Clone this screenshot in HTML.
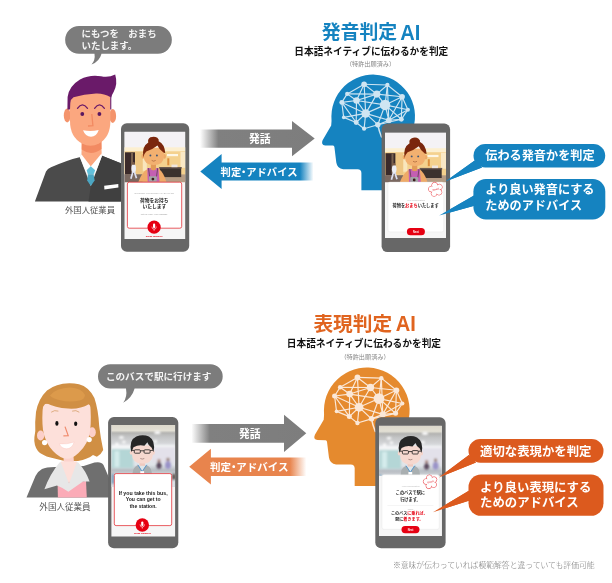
<!DOCTYPE html>
<html lang="ja">
<head>
<meta charset="utf-8">
<title>発音判定AI / 表現判定AI</title>
<style>
html,body{margin:0;padding:0;background:#fff;}
body{width:612px;height:583px;overflow:hidden;}
svg{display:block;font-family:"Liberation Sans","Noto Sans CJK JP",sans-serif;will-change:transform;}
</style>
</head>
<body>
<svg width="612" height="583" viewBox="0 0 612 583">
<rect width="612" height="583" fill="#ffffff"/>
<defs>
<linearGradient id="gGray" x1="0" x2="1" y1="0" y2="0"><stop offset="0" stop-color="#808080" stop-opacity="0"/><stop offset="0.16" stop-color="#808080" stop-opacity="1"/><stop offset="1" stop-color="#7d7d7d"/></linearGradient>
<linearGradient id="gBlue" x1="1" x2="0" y1="0" y2="0"><stop offset="0" stop-color="#1583c0" stop-opacity="0"/><stop offset="0.12" stop-color="#1583c0" stop-opacity="1"/><stop offset="1" stop-color="#1583c0"/></linearGradient>
<linearGradient id="gOrange" x1="1" x2="0" y1="0" y2="0"><stop offset="0" stop-color="#e8844d" stop-opacity="0"/><stop offset="0.14" stop-color="#e8844d" stop-opacity="1"/><stop offset="1" stop-color="#e8844d"/></linearGradient>
<linearGradient id="lobby" x1="0" x2="0" y1="0" y2="1"><stop offset="0" stop-color="#f1f1f8"/><stop offset="0.28" stop-color="#f6f1ee"/><stop offset="0.38" stop-color="#f6dca6"/><stop offset="0.7" stop-color="#f0c987"/><stop offset="0.78" stop-color="#c9a27a"/><stop offset="1" stop-color="#d9b48c"/></linearGradient>
<linearGradient id="office" x1="0" x2="0" y1="0" y2="50" gradientUnits="userSpaceOnUse"><stop offset="0" stop-color="#dcd8cb"/><stop offset="0.11" stop-color="#e2dfd4"/><stop offset="0.16" stop-color="#b4b4b2"/><stop offset="0.24" stop-color="#c4c5c6"/><stop offset="0.4" stop-color="#d9dbde"/><stop offset="0.5" stop-color="#eceef0"/><stop offset="0.8" stop-color="#dfe3e8"/><stop offset="0.9" stop-color="#b9bec4"/><stop offset="1" stop-color="#c9cdd2"/></linearGradient>
<filter id="b1" x="-20%" y="-20%" width="140%" height="140%"><feGaussianBlur stdDeviation="0.7"/></filter>
<filter id="b2" x="-20%" y="-20%" width="140%" height="140%"><feGaussianBlur stdDeviation="1.2"/></filter>
<filter id="b0" x="-20%" y="-20%" width="140%" height="140%"><feGaussianBlur stdDeviation="0.35"/></filter>
</defs>
<g><path fill="#1583c0" d="M361.4 190.2 L361.4 173 Q361.3 169.4 357.6 169.3 L343.2 169.2 Q337.2 168.6 336.3 162.5 L334.4 147 Q334.3 145.7 333 145.6 L325.2 145.4 Q320.6 144.8 322.6 140.2 L331.2 125.5 Q331.8 121.5 331.4 116.2 A41.8 41.8 0 1 1 409 138 L401 158 L401 190.2 Z"/><g stroke="#cfe5f2" stroke-width="1.15" fill="#cfe5f2" stroke-linecap="round"><line x1="364.1" y1="84.3" x2="387.4" y2="85.0"/><line x1="364.1" y1="84.3" x2="347.2" y2="93.9"/><line x1="364.1" y1="84.3" x2="356.5" y2="100.5"/><line x1="364.1" y1="84.3" x2="376.8" y2="94.1"/><line x1="364.1" y1="84.3" x2="365.7" y2="113.4"/><line x1="387.4" y1="85.0" x2="376.8" y2="94.1"/><line x1="387.4" y1="85.0" x2="402.1" y2="96.8"/><line x1="387.4" y1="85.0" x2="385.1" y2="104.9"/><line x1="387.4" y1="85.0" x2="388.8" y2="120.3"/><line x1="347.2" y1="93.9" x2="356.5" y2="100.5"/><line x1="347.2" y1="93.9" x2="341.8" y2="102.4"/><line x1="376.8" y1="94.1" x2="402.1" y2="96.8"/><line x1="376.8" y1="94.1" x2="356.5" y2="100.5"/><line x1="376.8" y1="94.1" x2="385.1" y2="104.9"/><line x1="376.8" y1="94.1" x2="365.7" y2="113.4"/><line x1="402.1" y1="96.8" x2="385.1" y2="104.9"/><line x1="402.1" y1="96.8" x2="407.9" y2="109.7"/><line x1="402.1" y1="96.8" x2="401.3" y2="119.3"/><line x1="356.5" y1="100.5" x2="341.8" y2="102.4"/><line x1="356.5" y1="100.5" x2="365.7" y2="113.4"/><line x1="356.5" y1="100.5" x2="385.1" y2="104.9"/><line x1="356.5" y1="100.5" x2="356.2" y2="122.5"/><line x1="341.8" y1="102.4" x2="343.7" y2="117.4"/><line x1="341.8" y1="102.4" x2="365.7" y2="113.4"/><line x1="341.8" y1="102.4" x2="356.2" y2="122.5"/><line x1="385.1" y1="104.9" x2="407.9" y2="109.7"/><line x1="385.1" y1="104.9" x2="365.7" y2="113.4"/><line x1="385.1" y1="104.9" x2="401.3" y2="119.3"/><line x1="385.1" y1="104.9" x2="388.8" y2="120.3"/><line x1="385.1" y1="104.9" x2="377.8" y2="124.7"/><line x1="407.9" y1="109.7" x2="401.3" y2="119.3"/><line x1="407.9" y1="109.7" x2="388.8" y2="120.3"/><line x1="365.7" y1="113.4" x2="343.7" y2="117.4"/><line x1="365.7" y1="113.4" x2="356.2" y2="122.5"/><line x1="365.7" y1="113.4" x2="377.8" y2="124.7"/><line x1="365.7" y1="113.4" x2="364.1" y2="128.7"/><line x1="365.7" y1="113.4" x2="388.8" y2="120.3"/><line x1="343.7" y1="117.4" x2="356.2" y2="122.5"/><line x1="401.3" y1="119.3" x2="388.8" y2="120.3"/><line x1="401.3" y1="119.3" x2="377.8" y2="124.7"/><line x1="388.8" y1="120.3" x2="377.8" y2="124.7"/><line x1="356.2" y1="122.5" x2="364.1" y2="128.7"/><line x1="377.8" y1="124.7" x2="364.1" y2="128.7"/><line x1="347.2" y1="93.9" x2="376.8" y2="94.1"/><line x1="402.1" y1="96.8" x2="388.8" y2="120.3"/><path d="M377.8 124.7 Q379 131 381.5 137" fill="none" stroke-width="1.5"/><circle cx="364.1" cy="84.3" r="2.8" stroke="none"/><circle cx="387.4" cy="85.0" r="2.13" stroke="none"/><circle cx="347.2" cy="93.9" r="2.13" stroke="none"/><circle cx="376.8" cy="94.1" r="3.58" stroke="none"/><circle cx="402.1" cy="96.8" r="2.8" stroke="none"/><circle cx="356.5" cy="100.5" r="3.25" stroke="none"/><circle cx="341.8" cy="102.4" r="2.46" stroke="none"/><circle cx="385.1" cy="104.9" r="5.26" stroke="none"/><circle cx="407.9" cy="109.7" r="2.02" stroke="none"/><circle cx="365.7" cy="113.4" r="4.26" stroke="none"/><circle cx="343.7" cy="117.4" r="1.79" stroke="none"/><circle cx="401.3" cy="119.3" r="2.46" stroke="none"/><circle cx="388.8" cy="120.3" r="2.91" stroke="none"/><circle cx="356.2" cy="122.5" r="2.46" stroke="none"/><circle cx="377.8" cy="124.7" r="2.69" stroke="none"/><circle cx="364.1" cy="128.7" r="2.13" stroke="none"/></g></g>
<g transform="translate(314.4,367.3) scale(1.025) translate(-322.1,-74.4)"><path fill="#e58a2e" d="M361.4 190.2 L361.4 173 Q361.3 169.4 357.6 169.3 L343.2 169.2 Q337.2 168.6 336.3 162.5 L334.4 147 Q334.3 145.7 333 145.6 L325.2 145.4 Q320.6 144.8 322.6 140.2 L331.2 125.5 Q331.8 121.5 331.4 116.2 A41.8 41.8 0 1 1 409 138 L401 158 L401 190.2 Z"/><g stroke="#fbe8d8" stroke-width="1.15" fill="#fbe8d8" stroke-linecap="round"><line x1="364.1" y1="84.3" x2="387.4" y2="85.0"/><line x1="364.1" y1="84.3" x2="347.2" y2="93.9"/><line x1="364.1" y1="84.3" x2="356.5" y2="100.5"/><line x1="364.1" y1="84.3" x2="376.8" y2="94.1"/><line x1="364.1" y1="84.3" x2="365.7" y2="113.4"/><line x1="387.4" y1="85.0" x2="376.8" y2="94.1"/><line x1="387.4" y1="85.0" x2="402.1" y2="96.8"/><line x1="387.4" y1="85.0" x2="385.1" y2="104.9"/><line x1="387.4" y1="85.0" x2="388.8" y2="120.3"/><line x1="347.2" y1="93.9" x2="356.5" y2="100.5"/><line x1="347.2" y1="93.9" x2="341.8" y2="102.4"/><line x1="376.8" y1="94.1" x2="402.1" y2="96.8"/><line x1="376.8" y1="94.1" x2="356.5" y2="100.5"/><line x1="376.8" y1="94.1" x2="385.1" y2="104.9"/><line x1="376.8" y1="94.1" x2="365.7" y2="113.4"/><line x1="402.1" y1="96.8" x2="385.1" y2="104.9"/><line x1="402.1" y1="96.8" x2="407.9" y2="109.7"/><line x1="402.1" y1="96.8" x2="401.3" y2="119.3"/><line x1="356.5" y1="100.5" x2="341.8" y2="102.4"/><line x1="356.5" y1="100.5" x2="365.7" y2="113.4"/><line x1="356.5" y1="100.5" x2="385.1" y2="104.9"/><line x1="356.5" y1="100.5" x2="356.2" y2="122.5"/><line x1="341.8" y1="102.4" x2="343.7" y2="117.4"/><line x1="341.8" y1="102.4" x2="365.7" y2="113.4"/><line x1="341.8" y1="102.4" x2="356.2" y2="122.5"/><line x1="385.1" y1="104.9" x2="407.9" y2="109.7"/><line x1="385.1" y1="104.9" x2="365.7" y2="113.4"/><line x1="385.1" y1="104.9" x2="401.3" y2="119.3"/><line x1="385.1" y1="104.9" x2="388.8" y2="120.3"/><line x1="385.1" y1="104.9" x2="377.8" y2="124.7"/><line x1="407.9" y1="109.7" x2="401.3" y2="119.3"/><line x1="407.9" y1="109.7" x2="388.8" y2="120.3"/><line x1="365.7" y1="113.4" x2="343.7" y2="117.4"/><line x1="365.7" y1="113.4" x2="356.2" y2="122.5"/><line x1="365.7" y1="113.4" x2="377.8" y2="124.7"/><line x1="365.7" y1="113.4" x2="364.1" y2="128.7"/><line x1="365.7" y1="113.4" x2="388.8" y2="120.3"/><line x1="343.7" y1="117.4" x2="356.2" y2="122.5"/><line x1="401.3" y1="119.3" x2="388.8" y2="120.3"/><line x1="401.3" y1="119.3" x2="377.8" y2="124.7"/><line x1="388.8" y1="120.3" x2="377.8" y2="124.7"/><line x1="356.2" y1="122.5" x2="364.1" y2="128.7"/><line x1="377.8" y1="124.7" x2="364.1" y2="128.7"/><line x1="347.2" y1="93.9" x2="376.8" y2="94.1"/><line x1="402.1" y1="96.8" x2="388.8" y2="120.3"/><path d="M377.8 124.7 Q379 131 381.5 137" fill="none" stroke-width="1.5"/><circle cx="364.1" cy="84.3" r="2.8" stroke="none"/><circle cx="387.4" cy="85.0" r="2.13" stroke="none"/><circle cx="347.2" cy="93.9" r="2.13" stroke="none"/><circle cx="376.8" cy="94.1" r="3.58" stroke="none"/><circle cx="402.1" cy="96.8" r="2.8" stroke="none"/><circle cx="356.5" cy="100.5" r="3.25" stroke="none"/><circle cx="341.8" cy="102.4" r="2.46" stroke="none"/><circle cx="385.1" cy="104.9" r="5.26" stroke="none"/><circle cx="407.9" cy="109.7" r="2.02" stroke="none"/><circle cx="365.7" cy="113.4" r="4.26" stroke="none"/><circle cx="343.7" cy="117.4" r="1.79" stroke="none"/><circle cx="401.3" cy="119.3" r="2.46" stroke="none"/><circle cx="388.8" cy="120.3" r="2.91" stroke="none"/><circle cx="356.2" cy="122.5" r="2.46" stroke="none"/><circle cx="377.8" cy="124.7" r="2.69" stroke="none"/><circle cx="364.1" cy="128.7" r="2.13" stroke="none"/></g></g>
<path fill="url(#gGray)" d="M200 129.4 L292 129.4 L292 120.89999999999999 L314.7 138.6 L292 156.29999999999998 L292 147.79999999999998 L200 147.79999999999998 Z"/>
<path fill="url(#gBlue)" d="M313.5 162.5 L221.6 162.5 L221.6 154.0 L200.3 171.5 L221.6 189.0 L221.6 180.5 L313.5 180.5 Z"/>
<text x="259.8" y="142.8" font-size="10.8" font-weight="700" fill="#fff" text-anchor="middle" >発話</text>
<text x="220.6" y="175.6" font-size="10.3" font-weight="700" fill="#fff" text-anchor="start" >判定<tspan dx="-2.6">・</tspan><tspan dx="-2.6">アドバイス</tspan></text>
<path fill="url(#gGray)" d="M191.4 423.90000000000003 L284 423.90000000000003 L284 414.7 L306.3 433.3 L284 451.90000000000003 L284 442.7 L191.4 442.7 Z"/>
<path fill="url(#gOrange)" d="M306.3 457.4 L210.9 457.4 L210.9 448.8 L189.2 466.7 L210.9 484.59999999999997 L210.9 476.0 L306.3 476.0 Z"/>
<text x="249.8" y="437.5" font-size="10.8" font-weight="700" fill="#fff" text-anchor="middle" >発話</text>
<text x="210" y="470.8" font-size="10.5" font-weight="700" fill="#fff" text-anchor="start" >判定<tspan dx="-2.6">・</tspan><tspan dx="-2.6">アドバイス</tspan></text>
<text x="321.7" y="39.3" font-size="18.9" font-weight="700" fill="#1583c0">発音判定</text><text transform="translate(400.3,39.6) scale(0.93,1)" font-size="21.6" font-weight="700" fill="#1583c0">AI</text>
<text x="371.3" y="55.2" font-size="9.68" font-weight="700" fill="#111" text-anchor="middle" >日本語ネイティブに伝わるかを判定</text>
<text x="370.5" y="65.5" font-size="6.15" font-weight="400" fill="#888" text-anchor="middle" >（特許出願済み）</text>
<text x="313.4" y="330.6" font-size="19.7" font-weight="700" fill="#e0641f">表現判定</text><text transform="translate(395.7,330.6) scale(0.93,1)" font-size="21.6" font-weight="700" fill="#e0641f">AI</text>
<text x="363.9" y="346.6" font-size="9.7" font-weight="700" fill="#111" text-anchor="middle" >日本語ネイティブに伝わるかを判定</text>
<text x="365" y="358.6" font-size="6.15" font-weight="400" fill="#888" text-anchor="middle" >（特許出願済み）</text>
<path fill="#7c7c7c" d="M79 26 H158 A13.85 13.85 0 0 1 158 53.7 H101.5 Q99.5 61.5 91.5 64.5 Q95.5 60 94.5 53.7 H79 A13.85 13.85 0 0 1 79 26 Z"/>
<text x="81.5" y="37.3" font-size="9.45" font-weight="700" fill="#f4f4f4" text-anchor="start" >にもつを　おまち</text>
<text x="81.5" y="48.6" font-size="9.45" font-weight="700" fill="#f4f4f4" text-anchor="start" >いたします。</text>
<path fill="#7c7c7c" d="M110.2 364.2 H210.5 A12.2 12.2 0 0 1 210.5 388.6 H134.6 Q132 398 123.2 402.8 Q127.5 397 126 388.6 H110.2 A12.2 12.2 0 0 1 110.2 364.2 Z"/>
<text x="158.7" y="379.8" font-size="9.6" font-weight="700" fill="#f4f4f4" text-anchor="middle" >このバスで駅に行けます</text>
<rect x="473.5" y="144" width="131.70000000000005" height="23.5" rx="11.75" ry="11.75" fill="#1583c0"/>
<path fill="#1583c0" d="M474.7 160.6 L445.3 181.5 L482 167.4 Z"/>
<rect x="473.4" y="179.0" width="131.89999999999998" height="40.5" rx="12.5" ry="12.5" fill="#1583c0"/>
<path fill="#1583c0" d="M474 195.6 L439.2 215.5 L475.2 205.6 Z"/>
<text x="485.3" y="160.3" font-size="12.15" font-weight="700" fill="#fff" text-anchor="start" >伝わる発音かを判定</text>
<text x="485.3" y="194.2" font-size="12.15" font-weight="700" fill="#fff" text-anchor="start" >より良い発音にする</text>
<text x="485.3" y="210.2" font-size="12.15" font-weight="700" fill="#fff" text-anchor="start" >ためのアドバイス</text>
<rect x="468.5" y="439.0" width="135.0" height="23.80000000000001" rx="11.9" ry="11.9" fill="#dc5a1e"/>
<path fill="#dc5a1e" d="M468.9 455 L438.8 477.4 L476 462.6 Z"/>
<rect x="468.5" y="474.5" width="135.0" height="41.299999999999955" rx="12.5" ry="12.5" fill="#dc5a1e"/>
<path fill="#dc5a1e" d="M468.8 490.8 L433 512.2 L469.6 500.4 Z"/>
<text x="480" y="455.6" font-size="12.4" font-weight="700" fill="#fff" text-anchor="start" >適切な表現かを判定</text>
<text x="480" y="492.4" font-size="12.4" font-weight="700" fill="#fff" text-anchor="start" >より良い表現にする</text>
<text x="480" y="507.3" font-size="12.4" font-weight="700" fill="#fff" text-anchor="start" >ためのアドバイス</text>

<g>
<!-- suit -->
<path fill="#4b4b4b" d="M34.9 201.5 L46 171.5 Q47.5 168.8 51 167.3 Q66 160.5 79.5 157.2 L102 155.8 L124 164.5 L124 201.5 Z"/>
<path fill="#404040" d="M90.8 186 L102 155.8 L124 164.5 L124 201.5 L88.5 201.5 Z"/>
<!-- shirt -->
<path fill="#f2f2f2" d="M79.8 157 L82 150 L101 150 L102 155.8 L90.8 186 Z"/>
<!-- neck -->
<path fill="#fba77f" d="M81.8 138 L101.4 138 L101.6 155.5 L90.8 166.5 L81.5 156.5 Z"/>
<path fill="#f28a62" d="M81.8 140 Q91 150 101.4 140 L101.5 149 Q91 156.5 81.7 149.5 Z"/>
<!-- collar flaps -->
<path fill="#ffffff" d="M79.8 157 L81.6 154.5 L90.8 166.5 L86.5 173 Z"/>
<path fill="#ffffff" d="M102 155.8 L101.5 153.5 L90.8 166.5 L95.5 172.5 Z"/>
<!-- tie -->
<path fill="#62c0da" d="M90.8 166.3 L95.2 170.3 L93.6 174.2 L88 174.2 L86.6 170.3 Z"/>
<path fill="#4ba6c2" d="M88 174.2 L93.6 174.2 L94.6 180.5 L90.8 186 L87.2 180.5 Z"/>
<!-- pocket tag -->
<path fill="#ffffff" d="M104.2 185.8 L118.3 184 L118.4 187.6 L104.4 189.4 Z"/>
<!-- ears -->
<ellipse cx="67.2" cy="115.4" rx="3.4" ry="7" fill="#f4946c"/>
<ellipse cx="112.7" cy="115.9" rx="3.4" ry="7" fill="#f4946c"/>
<!-- face -->
<path fill="#fba77f" d="M70 90 L110.4 90 L110.4 121 Q110.4 137 99 143.5 Q90.5 148 82 143.5 Q70 137 70 121 Z"/>
<!-- hair -->
<path fill="#6a1a69" d="M67.4 109.5 L67.6 97 Q69 86 80 79.5 Q90 74.3 101 76.3 Q108.5 78 115.2 74.6 Q118 84 113.6 92 Q111.6 95 111.3 98 L111.3 109.5 L110.2 109.5 L110.2 97 Q104 93.2 96 93.5 Q84 94 73.5 97.2 Q70.6 99 70.3 103 L70 109.5 Z"/>
<!-- brows -->
<path fill="none" stroke="#6a1a69" stroke-width="1.3" stroke-linecap="round" d="M77.5 108.3 Q82.4 101.6 87.5 108.3"/>
<path fill="none" stroke="#6a1a69" stroke-width="1.3" stroke-linecap="round" d="M94.6 108.3 Q99.5 101.6 104.4 108.3"/>
<circle cx="82.3" cy="114" r="1.9" fill="#5a1760"/>
<circle cx="99.4" cy="114" r="1.9" fill="#5a1760"/>
<!-- nose -->
<path fill="none" stroke="#f28a62" stroke-width="1.3" stroke-linejoin="miter" d="M91.8 114 L92.9 125.6 L88 126"/>
<!-- mouth -->
<path fill="#ffffff" d="M83 130.3 Q91 131.8 98.7 130 Q96.5 136.8 91 136.8 Q85.5 136.8 83 130.3 Z"/>
</g>
<text x="90" y="213.1" font-size="8.35" font-weight="400" fill="#555" text-anchor="middle" >外国人従業員</text>

<g>
<!-- hair back -->
<path fill="#d08f44" d="M69.1 383.3 Q56 383.5 47 390.5 Q38.5 398.5 36 412 Q34.8 422 35.3 431 Q34.2 437 34.3 441 Q35 449 40 453 Q46 457 54.5 458.5 L64.5 461 L78 461 Q88 459 93 455 L96.9 456.8 Q101.5 454 103.2 450 Q100.6 438 99.2 426 Q98.4 410 94.4 398 Q89 387 79 384.3 Q74 383.2 69.1 383.3 Z"/>
<!-- jacket -->
<path fill="#6f6f6f" d="M26.5 497.5 L35.5 476 Q37.5 471.5 42 469 Q46 467 55 467 L83.7 466 L94.5 462.6 Q101 461 103.5 465 L110 480 L110 497.5 Z"/>
<!-- pink shirt -->
<path fill="#fbabb7" d="M57.6 484 L86 481 L86.8 497.5 L57.9 497.5 Z"/>
<!-- neck / chest skin -->
<path fill="#fcd3cd" d="M63.8 455 L73.4 455 L74 463 L78 463 L69 483.5 L59.2 463 L63.5 463 Z"/>
<!-- collar -->
<path fill="#e7e7e7" d="M59.5 462.5 L63.2 461.5 L69 483.4 L74.8 461.5 L78.2 462.5 Q86 471 89.6 481.6 L83 481.6 Q76 486.5 68.4 491.8 Q62 487.5 57 485.6 L44.4 489.2 Q50 474 59.5 462.5 Z"/>
<path fill="#fde0da" d="M60.6 461.5 L77.2 461.5 L69 483.4 Z"/>
<!-- ears -->
<ellipse cx="40.6" cy="435.5" rx="3.6" ry="5" fill="#fccfc9"/>
<ellipse cx="92.2" cy="432.2" rx="3.6" ry="5" fill="#fccfc9"/>
<!-- face -->
<path fill="#fde0da" d="M43.2 404 L90 402 Q91.5 418 90.2 430 Q88.5 444 78.5 453 Q72 459 67 458.8 Q60 458.5 53 451 Q45 442.5 43 430 Q41.6 418 43.2 404 Z"/>
<!-- fringe -->
<path fill="#d08f44" d="M41 412 Q40 398 48 391 Q60 384 80 388 Q92 394 92.5 412 Q91.5 406.5 88.7 404.3 Q80 409.5 68 408.6 Q55 407.6 46.2 402.9 Q42.5 406 41 412 Z"/>
<path fill="#dc9a4b" d="M50 395.5 Q56 388 70 387.6 Q82 388.5 85 395 Q84.5 399.5 79.5 400.5 Q70 402.8 60 400.3 Q52.5 398.5 50 395.5 Z"/>
<!-- earrings -->
<circle cx="44.6" cy="442.6" r="2.6" fill="#ffffff"/>
<circle cx="89.2" cy="439.6" r="2.6" fill="#ffffff"/>
<!-- brows -->
<path fill="none" stroke="#c98a45" stroke-width="0.6" stroke-linecap="round" d="M51.5 412 Q54.5 409.6 58 411"/>
<path fill="none" stroke="#c98a45" stroke-width="0.6" stroke-linecap="round" d="M72.5 411 Q76 409.6 79 412"/>
<!-- eyes -->
<ellipse cx="56.9" cy="423.4" rx="1.6" ry="2.3" fill="#111"/>
<ellipse cx="75.7" cy="423.8" rx="1.6" ry="2.3" fill="#111"/>
<!-- nose -->
<path fill="none" stroke="#f08a6c" stroke-width="1.2" d="M65 426.6 L68.2 435.6 L63.4 435.8"/>
<!-- mouth -->
<path fill="#ffffff" stroke="#f9c4be" stroke-width="0.4" d="M59.2 443.8 Q67 444.6 74.2 442 Q72 448.8 66.6 448.8 Q61.5 448.6 59.2 443.8 Z"/>
</g>
<text x="65" y="509.9" font-size="8.55" font-weight="400" fill="#555" text-anchor="middle" >外国人従業員</text>
<rect x="121.0" y="123.2" width="68.19999999999999" height="128.60000000000002" rx="5.8" fill="#676767"/><rect x="124.5" y="131.8" width="60.69999999999999" height="107.19999999999999" fill="#f6f6f6"/>
<g><clipPath id="cl124"><rect x="124.5" y="131.8" width="60.69999999999999" height="50.5"/></clipPath><g clip-path="url(#cl124)"><rect x="124.5" y="131.8" width="60.69999999999999" height="50.5" fill="#f4f2f5"/><g filter="url(#b1)"><rect x="122.5" y="147.3" width="64.69999999999999" height="6" fill="#fcefd0"/><rect x="122.5" y="151.3" width="64.69999999999999" height="24" fill="#f4d18e"/><rect x="125.0" y="152.3" width="10" height="23" fill="#3b2c29"/><rect x="131.0" y="152.8" width="2" height="20" fill="#7a6250"/><rect x="135.3" y="151.8" width="7.5" height="22" fill="#eec683"/><rect x="142.8" y="152.8" width="4" height="18" fill="#f9e6bd"/><rect x="167.0" y="154.0" width="11" height="2.2" fill="#fdf6e6"/><rect x="167.3" y="158.3" width="2" height="7" fill="#dd8f3e"/><rect x="180.5" y="151.8" width="6" height="16" fill="#fae9c6"/><rect x="122.5" y="174.4" width="64.69999999999999" height="9" fill="#b59c84"/><rect x="122.5" y="174.4" width="20" height="9" fill="#7a6860"/><rect x="159.7" y="167.8" width="21.5" height="9.3" fill="#3a302f"/><rect x="159.1" y="167.0" width="22.6" height="1.5" fill="#6b5a50"/><rect x="171.5" y="164.6" width="6" height="2.6" fill="#efe6e0"/><ellipse cx="133.7" cy="168.4" rx="2.3" ry="4.2" fill="#eceef6"/><circle cx="133.5" cy="163.4" r="1.3" fill="#7a5a48"/><path d="M132.9 171.8 L130.9 178.8 M134.3 171.8 L136.5 178.3" stroke="#dcdff0" stroke-width="1.7" fill="none"/></g><g filter="url(#b0)" transform="translate(153.9,131.8)"><path fill="#eeaa68" d="M-15.5 50 Q-12 40 -5.6 36.6 L4.4 36.6 Q9.5 40 12.5 50 Z"/><path fill="#c45fb2" d="M-6.6 36.2 L4.6 36.2 L5.6 50 L-6.2 50 Z"/><path fill="#e39a58" d="M-3 30 L2 30 L2.2 37.8 Q-0.5 39.4 -3.2 37.8 Z"/><path fill="none" stroke="#4a3a40" stroke-width="0.7" d="M-5.4 36.4 L-4.2 45 M3.8 36.4 L2.6 45"/><rect x="-4.9" y="44.4" width="7.8" height="5.4" rx="0.8" fill="#a4a4a6"/><circle cx="-1" cy="47.3" r="1.4" fill="#3a1a1a"/><ellipse cx="-11" cy="24.6" rx="1.5" ry="2.3" fill="#eeaa68"/><ellipse cx="10.6" cy="24.6" rx="1.5" ry="2.3" fill="#eeaa68"/><path fill="#f2b070" d="M-10.2 16 L10 16 L10 24.5 Q10 33.2 -0.1 33.2 Q-10.2 33.2 -10.2 24.5 Z"/><path fill="#7a2608" d="M-10.6 25.6 Q-12.4 14.6 -5.6 10.6 Q-6.6 7.2 -3.4 5.5 Q0.4 4 3.4 6 Q5.4 7.6 4.8 9.4 Q10.6 12 11.4 21.4 L9.6 20.8 Q5.4 18 3.6 13.6 Q-2 18 -7.6 19.6 Q-10 21.8 -10.6 25.6 Z"/><circle cx="-3.5" cy="23.7" r="0.95" fill="#3f5575"/><circle cx="3" cy="23.7" r="0.95" fill="#3f5575"/><path fill="none" stroke="#8a4424" stroke-width="0.5" d="M-2.2 28.6 Q-0.2 30.2 1.8 28.6"/></g></g></g>
<rect x="127.4" y="182.2" width="54.3" height="46" rx="1.8" fill="#fff" stroke="#e5343a" stroke-width="0.8"/>
<text x="154.4" y="194.3" font-size="2.3" font-weight="400" fill="#aaa" text-anchor="middle" >NIMOTSU WO OMOCHI ITASHIMASU</text>
<text x="154.3" y="201.8" font-size="4.75" font-weight="700" fill="#222" text-anchor="middle" >荷物をお持ち</text>
<text x="154.3" y="208.3" font-size="4.75" font-weight="700" fill="#222" text-anchor="middle" >いたします</text>
<text x="154.3" y="214.9" font-size="2.3" font-weight="400" fill="#999" text-anchor="middle" >Let me carry your luggage.</text>
<circle cx="154.1" cy="227.2" r="6.6" fill="#e60012"/><rect x="153.0" y="223.6" width="2.2" height="4.6" rx="1.1" fill="#fff"/><path d="M151.9 226.6 Q151.9 229.2 154.1 229.2 Q156.29999999999998 229.2 156.29999999999998 226.6 M154.1 229.2 L154.1 230.79999999999998" fill="none" stroke="#fff" stroke-width="0.6"/>
<text x="154.3" y="237" font-size="2.2" font-weight="700" fill="#e60012" text-anchor="middle" >Speak Japanese</text>
<rect x="381.6" y="123.6" width="68.5" height="128.5" rx="5.8" fill="#676767"/><rect x="385.0" y="132.7" width="61.0" height="105.30000000000001" fill="#f6f6f6"/>
<g><clipPath id="cl385"><rect x="385.0" y="132.7" width="61.0" height="49.5"/></clipPath><g clip-path="url(#cl385)"><rect x="385.0" y="132.7" width="61.0" height="49.5" fill="#f4f2f5"/><g filter="url(#b1)"><rect x="383.0" y="148.2" width="65.0" height="6" fill="#fcefd0"/><rect x="383.0" y="152.2" width="65.0" height="24" fill="#f4d18e"/><rect x="385.5" y="153.2" width="10" height="23" fill="#3b2c29"/><rect x="391.5" y="153.7" width="2" height="20" fill="#7a6250"/><rect x="395.8" y="152.7" width="7.5" height="22" fill="#eec683"/><rect x="403.3" y="153.7" width="4" height="18" fill="#f9e6bd"/><rect x="427.5" y="154.9" width="11" height="2.2" fill="#fdf6e6"/><rect x="427.8" y="159.2" width="2" height="7" fill="#dd8f3e"/><rect x="441.0" y="152.7" width="6" height="16" fill="#fae9c6"/><rect x="383.0" y="175.3" width="65.0" height="9" fill="#b59c84"/><rect x="383.0" y="175.3" width="20" height="9" fill="#7a6860"/><rect x="420.2" y="168.7" width="21.5" height="9.3" fill="#3a302f"/><rect x="419.6" y="167.9" width="22.6" height="1.5" fill="#6b5a50"/><rect x="432.0" y="165.5" width="6" height="2.6" fill="#efe6e0"/><ellipse cx="394.2" cy="169.3" rx="2.3" ry="4.2" fill="#eceef6"/><circle cx="394.0" cy="164.3" r="1.3" fill="#7a5a48"/><path d="M393.4 172.7 L391.4 179.7 M394.8 172.7 L397.0 179.2" stroke="#dcdff0" stroke-width="1.7" fill="none"/></g><g filter="url(#b0)" transform="translate(415.2,132.7)"><path fill="#eeaa68" d="M-15.5 50 Q-12 40 -5.6 36.6 L4.4 36.6 Q9.5 40 12.5 50 Z"/><path fill="#c45fb2" d="M-6.6 36.2 L4.6 36.2 L5.6 50 L-6.2 50 Z"/><path fill="#e39a58" d="M-3 30 L2 30 L2.2 37.8 Q-0.5 39.4 -3.2 37.8 Z"/><path fill="none" stroke="#4a3a40" stroke-width="0.7" d="M-5.4 36.4 L-4.2 45 M3.8 36.4 L2.6 45"/><rect x="-4.9" y="44.4" width="7.8" height="5.4" rx="0.8" fill="#a4a4a6"/><circle cx="-1" cy="47.3" r="1.4" fill="#3a1a1a"/><ellipse cx="-11" cy="24.6" rx="1.5" ry="2.3" fill="#eeaa68"/><ellipse cx="10.6" cy="24.6" rx="1.5" ry="2.3" fill="#eeaa68"/><path fill="#f2b070" d="M-10.2 16 L10 16 L10 24.5 Q10 33.2 -0.1 33.2 Q-10.2 33.2 -10.2 24.5 Z"/><path fill="#7a2608" d="M-10.6 25.6 Q-12.4 14.6 -5.6 10.6 Q-6.6 7.2 -3.4 5.5 Q0.4 4 3.4 6 Q5.4 7.6 4.8 9.4 Q10.6 12 11.4 21.4 L9.6 20.8 Q5.4 18 3.6 13.6 Q-2 18 -7.6 19.6 Q-10 21.8 -10.6 25.6 Z"/><circle cx="-3.5" cy="23.7" r="0.95" fill="#3f5575"/><circle cx="3" cy="23.7" r="0.95" fill="#3f5575"/><path fill="none" stroke="#8a4424" stroke-width="0.5" d="M-2.2 28.6 Q-0.2 30.2 1.8 28.6"/></g></g></g>
<rect x="385" y="183" width="61" height="55" fill="#f6f6f6"/>
<rect x="388" y="182.1" width="55.8" height="49.8" rx="2" fill="#fff" stroke="#e4e4e4" stroke-width="0.4"/>
<circle cx="434.65" cy="185.19" r="2.80" fill="#fff" stroke="#e8383f" stroke-width="0.8"/><circle cx="439.38" cy="187.10" r="2.80" fill="#fff" stroke="#e8383f" stroke-width="0.8"/><circle cx="439.02" cy="192.19" r="2.80" fill="#fff" stroke="#e8383f" stroke-width="0.8"/><circle cx="434.07" cy="193.42" r="2.80" fill="#fff" stroke="#e8383f" stroke-width="0.8"/><circle cx="431.37" cy="189.10" r="2.80" fill="#fff" stroke="#e8383f" stroke-width="0.8"/><circle cx="434.65" cy="185.19" r="2.52" fill="#fff"/><circle cx="439.38" cy="187.10" r="2.52" fill="#fff"/><circle cx="439.02" cy="192.19" r="2.52" fill="#fff"/><circle cx="434.07" cy="193.42" r="2.52" fill="#fff"/><circle cx="431.37" cy="189.10" r="2.52" fill="#fff"/><circle cx="435.7" cy="189.4" r="3.85" fill="#fff"/><text x="435.7" y="190.3" font-size="2.5" font-weight="700" fill="#e8474f" text-anchor="middle" transform="rotate(-14 435.7 189.4)">Good</text>
<text x="415.8" y="200.8" font-size="2.2" font-weight="400" fill="#b5b5b5" text-anchor="middle" >Your pronunciation</text>
<text x="415.6" y="207" font-size="4.2" font-weight="700" fill="#222" text-anchor="middle">荷物を<tspan fill="#e60012">おまち</tspan>いたします</text>
<rect x="406.9" y="228.1" width="18" height="7.1" rx="3.55" fill="#e60012"/>
<text x="415.9" y="232.6" font-size="2.6" font-weight="700" fill="#fff" text-anchor="middle" >Next</text>
<rect x="108.1" y="417" width="70.20000000000002" height="131.29999999999995" rx="5.8" fill="#676767"/><rect x="111.4" y="425.0" width="63.69999999999999" height="111.5" fill="#f6f6f6"/>
<g><clipPath id="co111"><rect x="111.4" y="425.0" width="63.69999999999999" height="62"/></clipPath><g clip-path="url(#co111)"><g transform="translate(0,425.0)"><rect x="111.4" y="0" width="63.69999999999999" height="62" fill="url(#office)"/></g><g filter="url(#b2)"><rect x="111.4" y="449.0" width="22" height="19" fill="#b4d6d6"/><rect x="114.4" y="451.0" width="5" height="16" fill="#d5ecec"/><rect x="111.4" y="445.0" width="63.69999999999999" height="4" fill="#f4f5f7"/><rect x="151.4" y="447.0" width="24" height="16" fill="#e3e1ea"/><ellipse cx="157.4" cy="432.5" rx="3.2" ry="1.6" fill="#ffffff"/><ellipse cx="121.4" cy="437.5" rx="2.4" ry="1.3" fill="#ffffff"/><ellipse cx="123.9" cy="442.0" rx="1.8" ry="1.2" fill="#ffffff"/><ellipse cx="116.9" cy="444.0" rx="1.6" ry="1.2" fill="#ffffff"/><ellipse cx="155.4" cy="441.5" rx="1.6" ry="1.6" fill="#ffffff"/><rect x="111.4" y="474.0" width="63.69999999999999" height="14" fill="#dfe5ea"/><rect x="111.4" y="474.0" width="3" height="10" fill="#6f9fc0"/><rect x="171.9" y="474.0" width="3.4" height="6" fill="#50443c"/><ellipse cx="159.0" cy="465.5" rx="2.6" ry="3.4" fill="#5b4a5e"/><circle cx="159.0" cy="460.6" r="1.5" fill="#a07060"/><ellipse cx="168.0" cy="465.0" rx="3" ry="4" fill="#9a93c8"/><circle cx="168.0" cy="459.3" r="1.6" fill="#8a6a58"/></g><g filter="url(#b0)" transform="translate(-268.09999999999997,-0.8000000000000114)"><path fill="#a9afb1" d="M400.6 476 Q400.6 468 405.5 466 L415 466 Q420 468 420 476 Z"/><path fill="#dfe6ea" d="M406.5 465.6 L414.2 465.6 L410.3 472 Z"/><rect x="407.6" y="461" width="5.4" height="5.6" fill="#efc9be"/><path fill="none" stroke="#3a8fd8" stroke-width="0.7" d="M405.9 465.6 L410.3 472.3 L414.9 465.6"/><rect x="408.4" y="472" width="3.8" height="2.6" fill="#ffffff"/><ellipse cx="399.2" cy="453.3" rx="1.4" ry="2.2" fill="#f5d5cc"/><ellipse cx="421.6" cy="453.3" rx="1.4" ry="2.2" fill="#f5d5cc"/><path fill="#f6d8cf" d="M400 446 L421 446 L421 454 Q421 464.4 410.4 464.4 Q400 464.4 400 454 Z"/><path fill="#262626" d="M399.4 453 Q396.6 441 404.4 437.4 Q411 434.8 417 437.4 Q424 441.5 421.6 453 L419.8 448.5 Q416.5 446.5 415.5 443 L412.5 446.6 Q407 445 401.6 448 Z"/><g fill="none" stroke="#1c1c1c" stroke-width="0.8"><rect x="402.4" y="450.6" width="6" height="3.4" rx="0.8"/><rect x="412.2" y="450.6" width="6" height="3.4" rx="0.8"/><path d="M408.4 451.6 L412.2 451.6 M400 451.2 L402.4 451.2 M418.2 451.2 L421 451.2"/></g><path fill="none" stroke="#6a4a44" stroke-width="0.5" d="M408.4 459.3 Q410.4 460.4 412.4 459.3"/></g></g></g>
<rect x="114.3" y="473.6" width="57.4" height="52" rx="1.8" fill="#fff" stroke="#e5343a" stroke-width="0.8"/>
<text x="143.2" y="494.5" font-size="4.7" font-weight="700" fill="#222" text-anchor="middle" textLength="49" lengthAdjust="spacingAndGlyphs">If you take this bus,</text>
<text x="143.2" y="501.1" font-size="4.7" font-weight="700" fill="#222" text-anchor="middle" textLength="35" lengthAdjust="spacingAndGlyphs">You can get to</text>
<text x="143.2" y="507.7" font-size="4.7" font-weight="700" fill="#222" text-anchor="middle" textLength="27" lengthAdjust="spacingAndGlyphs">the station.</text>
<circle cx="142.3" cy="525" r="6.7" fill="#e60012"/><rect x="141.20000000000002" y="521.4" width="2.2" height="4.6" rx="1.1" fill="#fff"/><path d="M140.10000000000002 524.4 Q140.10000000000002 527 142.3 527 Q144.5 527 144.5 524.4 M142.3 527 L142.3 528.6" fill="none" stroke="#fff" stroke-width="0.6"/>
<text x="142.4" y="534.4" font-size="2.2" font-weight="700" fill="#e60012" text-anchor="middle" >Speak Japanese</text>
<rect x="375.3" y="417.3" width="70.30000000000001" height="130.99999999999994" rx="5.8" fill="#676767"/><rect x="379" y="425.8" width="62.80000000000001" height="110.19999999999999" fill="#f6f6f6"/>
<g><clipPath id="co379"><rect x="379" y="425.8" width="62.80000000000001" height="50"/></clipPath><g clip-path="url(#co379)"><g transform="translate(0,425.8)"><rect x="379" y="0" width="62.80000000000001" height="50" fill="url(#office)"/></g><g filter="url(#b2)"><rect x="379" y="449.8" width="22" height="19" fill="#b4d6d6"/><rect x="382" y="451.8" width="5" height="16" fill="#d5ecec"/><rect x="379" y="445.8" width="62.80000000000001" height="4" fill="#f4f5f7"/><rect x="419" y="447.8" width="24" height="16" fill="#e3e1ea"/><ellipse cx="425" cy="433.3" rx="3.2" ry="1.6" fill="#ffffff"/><ellipse cx="389" cy="438.3" rx="2.4" ry="1.3" fill="#ffffff"/><ellipse cx="391.5" cy="442.8" rx="1.8" ry="1.2" fill="#ffffff"/><ellipse cx="384.5" cy="444.8" rx="1.6" ry="1.2" fill="#ffffff"/><ellipse cx="423" cy="442.3" rx="1.6" ry="1.6" fill="#ffffff"/><rect x="379" y="474.8" width="62.80000000000001" height="14" fill="#dfe5ea"/><rect x="379" y="474.8" width="3" height="10" fill="#6f9fc0"/><rect x="439.5" y="474.8" width="3.4" height="6" fill="#50443c"/><ellipse cx="426.6" cy="466.3" rx="2.6" ry="3.4" fill="#5b4a5e"/><circle cx="426.6" cy="461.40000000000003" r="1.5" fill="#a07060"/><ellipse cx="435.6" cy="465.8" rx="3" ry="4" fill="#9a93c8"/><circle cx="435.6" cy="460.1" r="1.6" fill="#8a6a58"/></g><g filter="url(#b0)" transform="translate(0.0,0.0)"><path fill="#a9afb1" d="M400.6 476 Q400.6 468 405.5 466 L415 466 Q420 468 420 476 Z"/><path fill="#dfe6ea" d="M406.5 465.6 L414.2 465.6 L410.3 472 Z"/><rect x="407.6" y="461" width="5.4" height="5.6" fill="#efc9be"/><path fill="none" stroke="#3a8fd8" stroke-width="0.7" d="M405.9 465.6 L410.3 472.3 L414.9 465.6"/><rect x="408.4" y="472" width="3.8" height="2.6" fill="#ffffff"/><ellipse cx="399.2" cy="453.3" rx="1.4" ry="2.2" fill="#f5d5cc"/><ellipse cx="421.6" cy="453.3" rx="1.4" ry="2.2" fill="#f5d5cc"/><path fill="#f6d8cf" d="M400 446 L421 446 L421 454 Q421 464.4 410.4 464.4 Q400 464.4 400 454 Z"/><path fill="#262626" d="M399.4 453 Q396.6 441 404.4 437.4 Q411 434.8 417 437.4 Q424 441.5 421.6 453 L419.8 448.5 Q416.5 446.5 415.5 443 L412.5 446.6 Q407 445 401.6 448 Z"/><g fill="none" stroke="#1c1c1c" stroke-width="0.8"><rect x="402.4" y="450.6" width="6" height="3.4" rx="0.8"/><rect x="412.2" y="450.6" width="6" height="3.4" rx="0.8"/><path d="M408.4 451.6 L412.2 451.6 M400 451.2 L402.4 451.2 M418.2 451.2 L421 451.2"/></g><path fill="none" stroke="#6a4a44" stroke-width="0.5" d="M408.4 459.3 Q410.4 460.4 412.4 459.3"/></g></g></g>
<rect x="379" y="476" width="62.8" height="60" fill="#f6f6f6"/>
<rect x="382" y="474.8" width="57.2" height="54.5" rx="2" fill="#fff" stroke="#e4e4e4" stroke-width="0.4"/>
<circle cx="429.37" cy="477.75" r="2.76" fill="#fff" stroke="#e8383f" stroke-width="0.8"/><circle cx="434.03" cy="479.63" r="2.76" fill="#fff" stroke="#e8383f" stroke-width="0.8"/><circle cx="433.68" cy="484.65" r="2.76" fill="#fff" stroke="#e8383f" stroke-width="0.8"/><circle cx="428.80" cy="485.87" r="2.76" fill="#fff" stroke="#e8383f" stroke-width="0.8"/><circle cx="426.13" cy="481.60" r="2.76" fill="#fff" stroke="#e8383f" stroke-width="0.8"/><circle cx="429.37" cy="477.75" r="2.48" fill="#fff"/><circle cx="434.03" cy="479.63" r="2.48" fill="#fff"/><circle cx="433.68" cy="484.65" r="2.48" fill="#fff"/><circle cx="428.80" cy="485.87" r="2.48" fill="#fff"/><circle cx="426.13" cy="481.60" r="2.48" fill="#fff"/><circle cx="430.4" cy="481.9" r="3.80" fill="#fff"/><text x="430.4" y="482.79999999999995" font-size="2.5" font-weight="700" fill="#e8474f" text-anchor="middle" transform="rotate(-14 430.4 481.9)">Good</text>
<text x="410.5" y="487.4" font-size="2.2" font-weight="400" fill="#b5b5b5" text-anchor="middle" >Your pronunciation</text>
<text x="410.4" y="494.4" font-size="4.2" font-weight="700" fill="#222" text-anchor="middle" >このバスで駅に</text>
<text x="410.4" y="500.5" font-size="4.2" font-weight="700" fill="#222" text-anchor="middle" >行けます。</text>
<line x1="387.4" y1="505.5" x2="433.4" y2="505.5" stroke="#e6e6e6" stroke-width="0.4"/>
<text x="410.5" y="509.5" font-size="2.1" font-weight="400" fill="#b5b5b5" text-anchor="middle" >Model</text>
<text x="409.3" y="515.1" font-size="4.1" font-weight="700" fill="#222" text-anchor="middle">このバス<tspan fill="#e60012">に乗れば、</tspan></text>
<text x="409.3" y="520.8" font-size="4.1" font-weight="700" fill="#222" text-anchor="middle">駅に<tspan fill="#e60012">着きます。</tspan></text>
<rect x="401.5" y="526" width="18" height="7.2" rx="3.6" fill="#e60012"/>
<text x="410.5" y="530.5" font-size="2.6" font-weight="700" fill="#fff" text-anchor="middle" >Next</text>
<path fill="#1583c0" d="M474.7 160.6 L445.3 181.5 L482 167.4 Z"/>
<path fill="#1583c0" d="M474 195.6 L439.2 215.5 L475.2 205.6 Z"/>
<path fill="#dc5a1e" d="M468.9 455 L438.8 477.4 L476 462.6 Z"/>
<path fill="#dc5a1e" d="M468.8 490.8 L433 512.2 L469.6 500.4 Z"/>
<text x="594.6" y="567.5" font-size="7.82" font-weight="300" fill="#777" text-anchor="end" >※意味が伝わっていれば模範解答と違っていても評価可能</text>
</svg>
</body>
</html>
